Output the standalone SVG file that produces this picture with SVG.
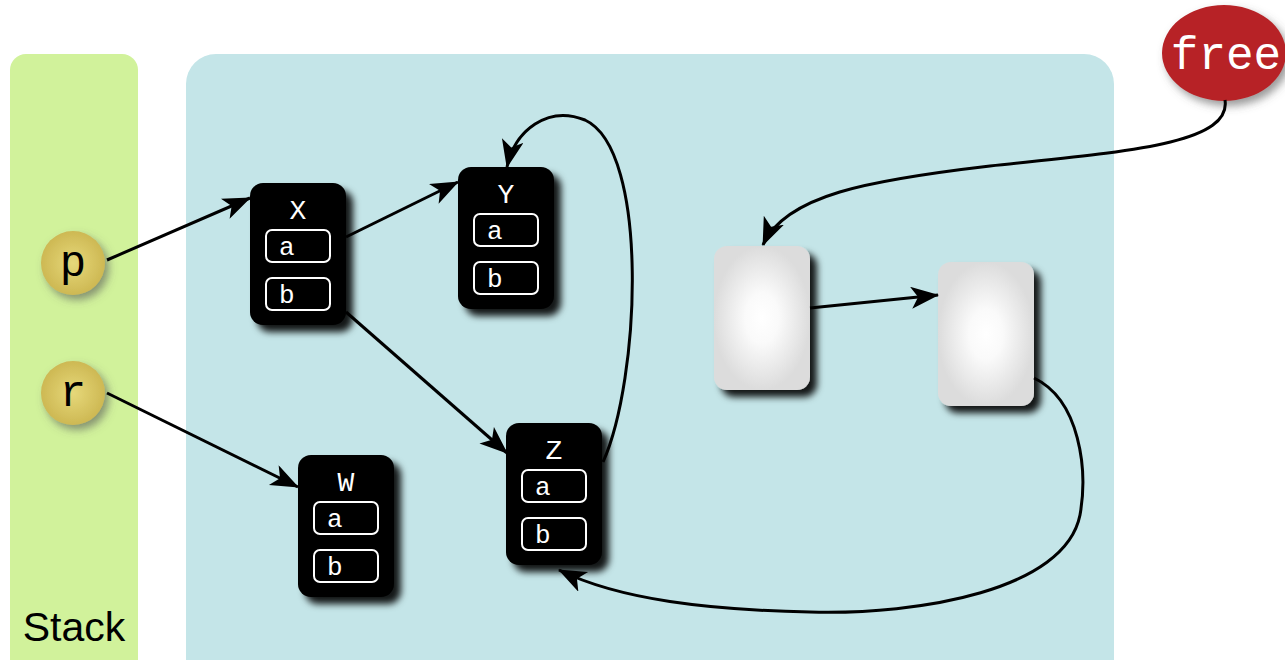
<svg xmlns="http://www.w3.org/2000/svg" width="1285" height="660" viewBox="0 0 1285 660">
  <defs>
    <filter id="shadow" x="-30%" y="-30%" width="170%" height="170%">
      <feDropShadow dx="7" dy="7" stdDeviation="3.5" flood-color="#000" flood-opacity="0.9"/>
    </filter>
    <filter id="softShadow" x="-40%" y="-40%" width="190%" height="190%">
      <feDropShadow dx="4" dy="5" stdDeviation="4" flood-color="#555" flood-opacity="0.6"/>
    </filter>
    <radialGradient id="gold" cx="50%" cy="50%" r="55%">
      <stop offset="0" stop-color="#e6d87a"/>
      <stop offset="1" stop-color="#cbb54f"/>
    </radialGradient>
    <radialGradient id="grey" cx="50%" cy="50%" r="50%">
      <stop offset="0" stop-color="#ffffff"/>
      <stop offset="0.35" stop-color="#fafafa"/>
      <stop offset="1" stop-color="#dcdcdc"/>
    </radialGradient>
    <marker id="arrow" markerUnits="userSpaceOnUse" markerWidth="32" markerHeight="24" refX="27" refY="11" orient="auto">
      <path d="M0,0 L28,11 L0,22 L7,11 z" fill="#000"/>
    </marker>
    <style>
      .obj rect.body { fill: #000; }
      .field { fill: none; stroke: #fff; stroke-width: 2; }
      .title { font-family: "Liberation Mono", "DejaVu Sans Mono", monospace; font-size: 28px; fill: #fff; text-anchor: middle; }
      .lbl { font-family: "Liberation Mono", "DejaVu Sans Mono", monospace; font-size: 26px; fill: #fff; }
      .var { font-family: "Liberation Mono", "DejaVu Sans Mono", monospace; font-size: 44px; fill: #000; text-anchor: middle; }
      .edge { fill: none; stroke: #000; stroke-width: 3; marker-end: url(#arrow); }
    </style>
  </defs>

  <rect width="1285" height="660" fill="#fff"/>

  <!-- stack frame -->
  <g id="stack">
    <rect x="10" y="54" width="128" height="640" rx="16" fill="#d1f29b"/>
    <text x="74" y="641" font-family="Liberation Sans, Arial, sans-serif" font-size="41" text-anchor="middle" fill="#000">Stack</text>
  </g>

  <!-- heap area -->
  <g id="heap">
    <rect x="186" y="54" width="928" height="650" rx="30" fill="#c4e5e8"/>
  </g>

  <!-- stack variables -->
  <g id="var-p">
    <circle cx="73" cy="263" r="32" fill="url(#gold)" filter="url(#softShadow)"/>
    <text class="var" x="73" y="276">p</text>
  </g>
  <g id="var-r">
    <circle cx="73" cy="393" r="32" fill="url(#gold)" filter="url(#softShadow)"/>
    <text class="var" x="73" y="406">r</text>
  </g>

  <!-- objects -->
  <g id="obj-X" class="obj">
    <rect class="body" x="250" y="183" width="96" height="142" rx="13" filter="url(#shadow)"/>
    <text class="title" x="298" y="219">X</text>
    <rect class="field" x="266" y="230" width="64" height="32" rx="6"/>
    <text class="lbl" x="279" y="255">a</text>
    <rect class="field" x="266" y="278" width="64" height="32" rx="6"/>
    <text class="lbl" x="279" y="303">b</text>
  </g>
  <g id="obj-Y" class="obj">
    <rect class="body" x="458" y="167" width="96" height="142" rx="13" filter="url(#shadow)"/>
    <text class="title" x="506" y="203">Y</text>
    <rect class="field" x="474" y="214" width="64" height="32" rx="6"/>
    <text class="lbl" x="487" y="239">a</text>
    <rect class="field" x="474" y="262" width="64" height="32" rx="6"/>
    <text class="lbl" x="487" y="287">b</text>
  </g>
  <g id="obj-Z" class="obj">
    <rect class="body" x="506" y="423" width="96" height="142" rx="13" filter="url(#shadow)"/>
    <text class="title" x="554" y="459">Z</text>
    <rect class="field" x="522" y="470" width="64" height="32" rx="6"/>
    <text class="lbl" x="535" y="495">a</text>
    <rect class="field" x="522" y="518" width="64" height="32" rx="6"/>
    <text class="lbl" x="535" y="543">b</text>
  </g>
  <g id="obj-W" class="obj">
    <rect class="body" x="298" y="455" width="96" height="142" rx="13" filter="url(#shadow)"/>
    <text class="title" x="346" y="491">W</text>
    <rect class="field" x="314" y="502" width="64" height="32" rx="6"/>
    <text class="lbl" x="327" y="527">a</text>
    <rect class="field" x="314" y="550" width="64" height="32" rx="6"/>
    <text class="lbl" x="327" y="575">b</text>
  </g>

  <!-- free-list cells -->
  <g id="free-1">
    <rect x="714" y="246" width="96" height="144" rx="13" fill="url(#grey)" filter="url(#shadow)"/>
  </g>
  <g id="free-2">
    <rect x="938" y="262" width="96" height="144" rx="13" fill="url(#grey)" filter="url(#shadow)"/>
  </g>

  <!-- free-list head -->
  <g id="free">
    <ellipse cx="1224" cy="53" rx="62" ry="48" fill="#b72428" filter="url(#softShadow)"/>
    <text x="1226" y="69" font-family="Liberation Mono, DejaVu Sans Mono, monospace" font-size="46" fill="#fff" text-anchor="middle">free</text>
  </g>

  <!-- references -->
  <g id="connectors">
    <path class="edge" d="M107,260 L250,198"/>
    <path class="edge" d="M107,393 L298,487"/>
    <path class="edge" d="M346,237 L458,182"/>
    <path class="edge" d="M346,312 L507,453"/>
    <path class="edge" d="M603,462 C640,380 650,150 585,120 C548,105 515,130 507,167"/>
    <path class="edge" d="M1225,100 C1232,145 1120,152 990,166 C870,180 785,195 763,245"/>
    <path class="edge" d="M810,308 L938,295"/>
    <path class="edge" d="M1034,378 C1080,400 1088,470 1080,515 C1065,590 920,615 810,612 C710,610 620,600 559,570"/>
  </g>
</svg>
